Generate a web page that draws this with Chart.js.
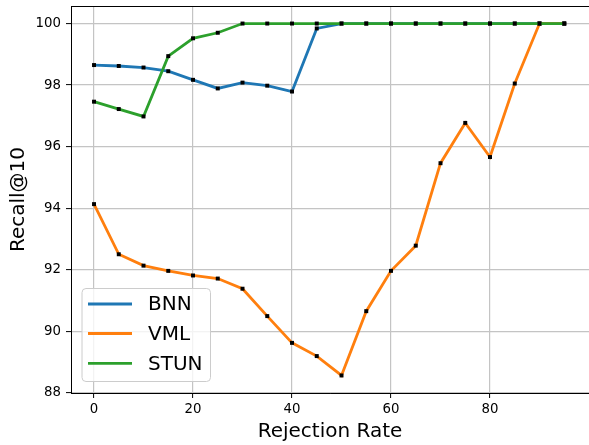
<!DOCTYPE html>
<html>
<head>
<meta charset="utf-8">
<script src="https://cdn.jsdelivr.net/npm/chart.js@4.4.1/dist/chart.umd.min.js"></script>
<style>
  html, body { margin: 0; padding: 0; background: #ffffff; }
  #wrap { width: 589px; height: 445px; }
</style>
</head>
<body>
<div id="wrap"><canvas id="c" width="589" height="445"></canvas></div>
<script>
const rejectionRates = [0, 5, 10, 15, 20, 25, 30, 35, 40, 45, 50, 55, 60, 65, 70, 75, 80, 85, 90, 95];
const bnn  = [98.65, 98.62, 98.57, 98.45, 98.17, 97.89, 98.08, 97.98, 97.79, 99.84, 100, 100, 100, 100, 100, 100, 100, 100, 100, 100];
const vml  = [94.13, 92.50, 92.13, 91.96, 91.81, 91.71, 91.38, 90.49, 89.62, 89.19, 88.56, 90.65, 91.96, 92.78, 95.46, 96.77, 95.66, 98.05, 100, 100];
const stun = [97.46, 97.22, 96.98, 98.94, 99.52, 99.70, 100, 100, 100, 100, 100, 100, 100, 100, 100, 100, 100, 100, 100, 100];
const seriesNames = ['BNN', 'VML', 'STUN'];
const seriesColors = ['#1f77b4', '#ff7f0e', '#2ca02c'];
const xTicks = [0, 20, 40, 60, 80];
const yTicks = [88, 90, 92, 94, 96, 98, 100];

const FONT = "'DejaVu Sans', sans-serif";
const toPts = arr => arr.map((v, i) => ({ x: rejectionRates[i], y: v }));

function ds(idx, values) {
  return {
    label: seriesNames[idx],
    data: toPts(values),
    borderColor: seriesColors[idx],
    backgroundColor: seriesColors[idx],
    borderWidth: 2.8,
    pointStyle: 'rect',
    pointRadius: 2.8,
    pointBorderWidth: 0,
    pointBackgroundColor: '#000000',
    pointHoverRadius: 2.8,
    tension: 0,
    fill: false,
    order: 2 - idx
  };
}

const framePlugin = {
  id: 'frame',
  afterDraw(chart) {
    const { ctx, chartArea } = chart;
    ctx.save();
    ctx.strokeStyle = '#000000';
    ctx.lineWidth = 1;
    ctx.beginPath();
    ctx.moveTo(chartArea.left, chartArea.top + 0.5);
    ctx.lineTo(chartArea.right, chartArea.top + 0.5);
    ctx.stroke();
    ctx.restore();
  }
};

const legendPlugin = {
  id: 'mplLegend',
  afterDraw(chart) {
    const ctx = chart.ctx;
    const x0 = 82, y0 = 288.5, w = 128.5, h = 93, r = 4;
    ctx.save();
    ctx.beginPath();
    ctx.moveTo(x0 + r, y0);
    ctx.lineTo(x0 + w - r, y0);
    ctx.arcTo(x0 + w, y0, x0 + w, y0 + r, r);
    ctx.lineTo(x0 + w, y0 + h - r);
    ctx.arcTo(x0 + w, y0 + h, x0 + w - r, y0 + h, r);
    ctx.lineTo(x0 + r, y0 + h);
    ctx.arcTo(x0, y0 + h, x0, y0 + h - r, r);
    ctx.lineTo(x0, y0 + r);
    ctx.arcTo(x0, y0, x0 + r, y0, r);
    ctx.closePath();
    ctx.fillStyle = 'rgba(255,255,255,0.8)';
    ctx.fill();
    ctx.strokeStyle = '#cccccc';
    ctx.lineWidth = 1;
    ctx.stroke();
    const rows = [304, 333.5, 363.3];
    ctx.font = '20px ' + FONT;
    ctx.textBaseline = 'middle';
    ctx.textAlign = 'left';
    chart.data.datasets.forEach((d, i) => {
      ctx.strokeStyle = d.borderColor;
      ctx.lineWidth = 2.8;
      ctx.beginPath();
      ctx.moveTo(88, rows[i]);
      ctx.lineTo(132, rows[i]);
      ctx.stroke();
      ctx.fillStyle = '#000000';
      ctx.fillText(d.label, 148, rows[i] + 1);
    });
    ctx.restore();
  }
};

function zeroPad(scale) {
  scale.paddingTop = 0;
  scale.paddingBottom = 0;
  scale.paddingLeft = 0;
  scale.paddingRight = 0;
}

new Chart(document.getElementById('c'), {
  type: 'line',
  data: { datasets: [ds(0, bnn), ds(1, vml), ds(2, stun)] },
  options: {
    responsive: false,
    animation: false,
    devicePixelRatio: 1,
    layout: { autoPadding: false, padding: { top: 6, right: 0, left: 0, bottom: 0 } },
    plugins: { legend: { display: false }, tooltip: { enabled: false } },
    scales: {
      x: {
        type: 'linear',
        min: -4.65,
        max: 100,
        afterBuildTicks(scale) { scale.ticks = xTicks.map(v => ({ value: v })); },
        afterFit(scale) { scale.height = 52; zeroPad(scale); },
        ticks: { color: '#000000', font: { family: FONT, size: 13.3 }, padding: 4, maxRotation: 0, autoSkip: false },
        grid: { color: '#c4c4c4', lineWidth: 1.2, tickColor: '#000000', tickLength: 5, tickWidth: 1 },
        border: { display: true, color: '#000000', width: 1 },
        title: { display: true, text: 'Rejection Rate', color: '#000000', font: { family: FONT, size: 20 }, padding: { top: 0, bottom: 1 } }
      },
      y: {
        type: 'linear',
        min: 87.99,
        max: 100.57,
        afterBuildTicks(scale) { scale.ticks = yTicks.map(v => ({ value: v })); },
        afterFit(scale) { scale.width = 71; zeroPad(scale); },
        ticks: { color: '#000000', font: { family: FONT, size: 13.3 }, padding: 5, autoSkip: false },
        grid: { color: '#c4c4c4', lineWidth: 1.2, tickColor: '#000000', tickLength: 5, tickWidth: 1 },
        border: { display: true, color: '#000000', width: 1 },
        title: { display: true, text: 'Recall@10', color: '#000000', font: { family: FONT, size: 20 }, padding: { top: 7, bottom: 0 } }
      }
    }
  },
  plugins: [framePlugin, legendPlugin]
});
</script>
</body>
</html>
